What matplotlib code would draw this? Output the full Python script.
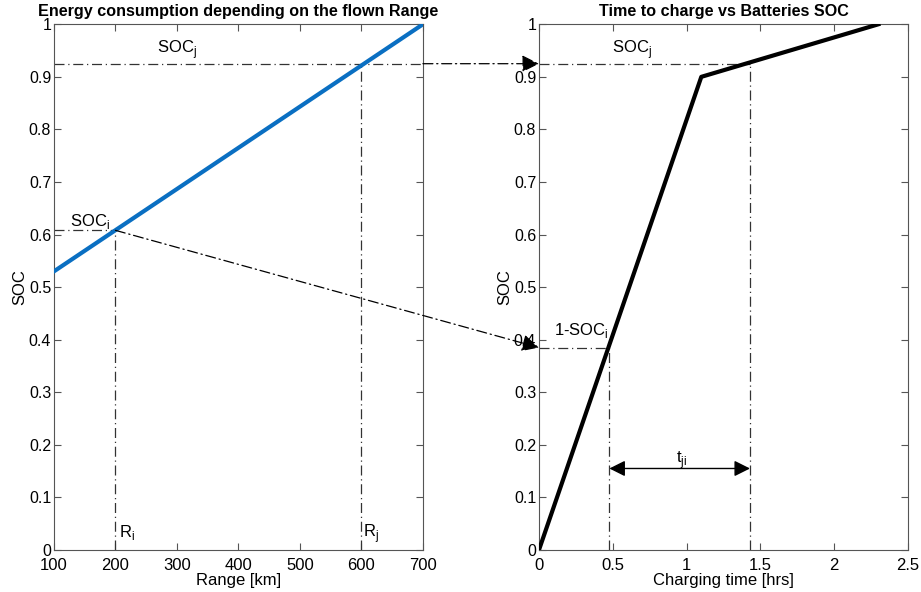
import matplotlib
matplotlib.use("Agg")
import matplotlib.pyplot as plt
from matplotlib.patches import ConnectionPatch
from matplotlib.ticker import FormatStrFormatter

plt.rcParams['font.family'] = ['Liberation Sans', 'DejaVu Sans']

# energy consumption vs range
range_km = [100, 700]
soc_range = [0.53, 1.0]

# charging curve
charge_time = [0, 1.1, 2.3]
charge_soc = [0, 0.9, 1.0]

# marked points
R_i, R_j = 200, 600
soc_i, soc_j = 0.608, 0.925
t_i, t_j = 0.477, 1.43
one_minus_soc_i = 0.385
arrow_y = 0.155

xticks_left = [100, 200, 300, 400, 500, 600, 700]
xticks_right = [0, 0.5, 1, 1.5, 2, 2.5]
yticks = [0, 0.1, 0.2, 0.3, 0.4, 0.5, 0.6, 0.7, 0.8, 0.9, 1]

fig = plt.figure(figsize=(9.21, 5.92), dpi=100)
ax1 = fig.add_axes([0.0586, 0.071, 0.4006, 0.888])
ax2 = fig.add_axes([0.5852, 0.071, 0.4006, 0.888])

dash = dict(color='#333333', lw=0.9, ls=(0, (8, 3, 1, 3)))
fs = 12

for ax in (ax1, ax2):
    ax.set_ylim(0, 1)
    ax.set_yticks(yticks)
    ax.yaxis.set_major_formatter(FormatStrFormatter('%g'))
    ax.xaxis.set_major_formatter(FormatStrFormatter('%g'))
    ax.tick_params(direction='in', top=True, right=True, labelsize=fs,
                   color='#555555', length=5)
    ax.tick_params(axis='x', pad=6)
    ax.tick_params(axis='y', pad=2, labelsize=11.5)
    for s in ax.spines.values():
        s.set_color('#555555')
    ax.set_ylabel('SOC', fontsize=fs, labelpad=1)

# left panel
ax1.set_xlim(100, 700)
ax1.set_xticks(xticks_left)
ax1.plot(range_km, soc_range, color='#0a6fc2', lw=3, zorder=5)
ax1.plot([100, R_i], [soc_i, soc_i], **dash)
ax1.plot([R_i, R_i], [0, soc_i], **dash)
ax1.plot([100, 700], [soc_j, soc_j], **dash)
ax1.plot([R_j, R_j], [0, soc_j], **dash)
ax1.text(267, 0.945, r'SOC$_\mathregular{j}$', fontsize=fs)
ax1.text(126, 0.617, r'SOC$_\mathregular{i}$', fontsize=fs)
ax1.text(206, 0.025, r'R$_\mathregular{i}$', fontsize=fs)
ax1.text(603, 0.025, r'R$_\mathregular{j}$', fontsize=fs)
ax1.set_xlabel('Range [km]', fontsize=fs, labelpad=0)
ax1.set_title('Energy consumption depending on the flown Range',
              fontsize=11.6, fontweight='bold', pad=6)

# right panel
ax2.set_xlim(0, 2.5)
ax2.set_xticks(xticks_right)
ax2.plot(charge_time, charge_soc, color='black', lw=3, zorder=5)
ax2.plot([0, t_j], [soc_j, soc_j], **dash)
ax2.plot([t_j, t_j], [0, soc_j], **dash)
ax2.plot([0, t_i], [one_minus_soc_i, one_minus_soc_i], **dash)
ax2.plot([t_i, t_i], [0, one_minus_soc_i], **dash)
ax2.annotate('', xy=(t_i, arrow_y), xytext=(t_j, arrow_y),
             arrowprops=dict(arrowstyle='<|-|>', color='black', lw=1,
                             mutation_scale=24, shrinkA=0, shrinkB=0))
ax2.text(0.93, 0.165, r't$_\mathregular{ji}$', fontsize=fs)
ax2.text(0.495, 0.945, r'SOC$_\mathregular{j}$', fontsize=fs)
ax2.text(0.1, 0.408, r'1-SOC$_\mathregular{i}$', fontsize=fs)
ax2.set_xlabel('Charging time [hrs]', fontsize=fs, labelpad=0)
ax2.set_title('Time to charge vs Batteries SOC',
              fontsize=11.6, fontweight='bold', pad=6)

# cross-panel arrows
con1 = ConnectionPatch(xyA=(700, soc_j), coordsA=ax1.transData,
                       xyB=(0, soc_j), coordsB=ax2.transData,
                       arrowstyle='-|>', mutation_scale=26, color='black',
                       lw=0.9, ls=(0, (8, 3, 1, 3)), shrinkA=0, shrinkB=0)
con2 = ConnectionPatch(xyA=(R_i, soc_i), coordsA=ax1.transData,
                       xyB=(0, one_minus_soc_i), coordsB=ax2.transData,
                       arrowstyle='-|>', mutation_scale=26, color='black',
                       lw=0.9, ls=(0, (8, 3, 1, 3)), shrinkA=0, shrinkB=0)
fig.add_artist(con1)
fig.add_artist(con2)

fig.savefig('out.png', dpi=100)
